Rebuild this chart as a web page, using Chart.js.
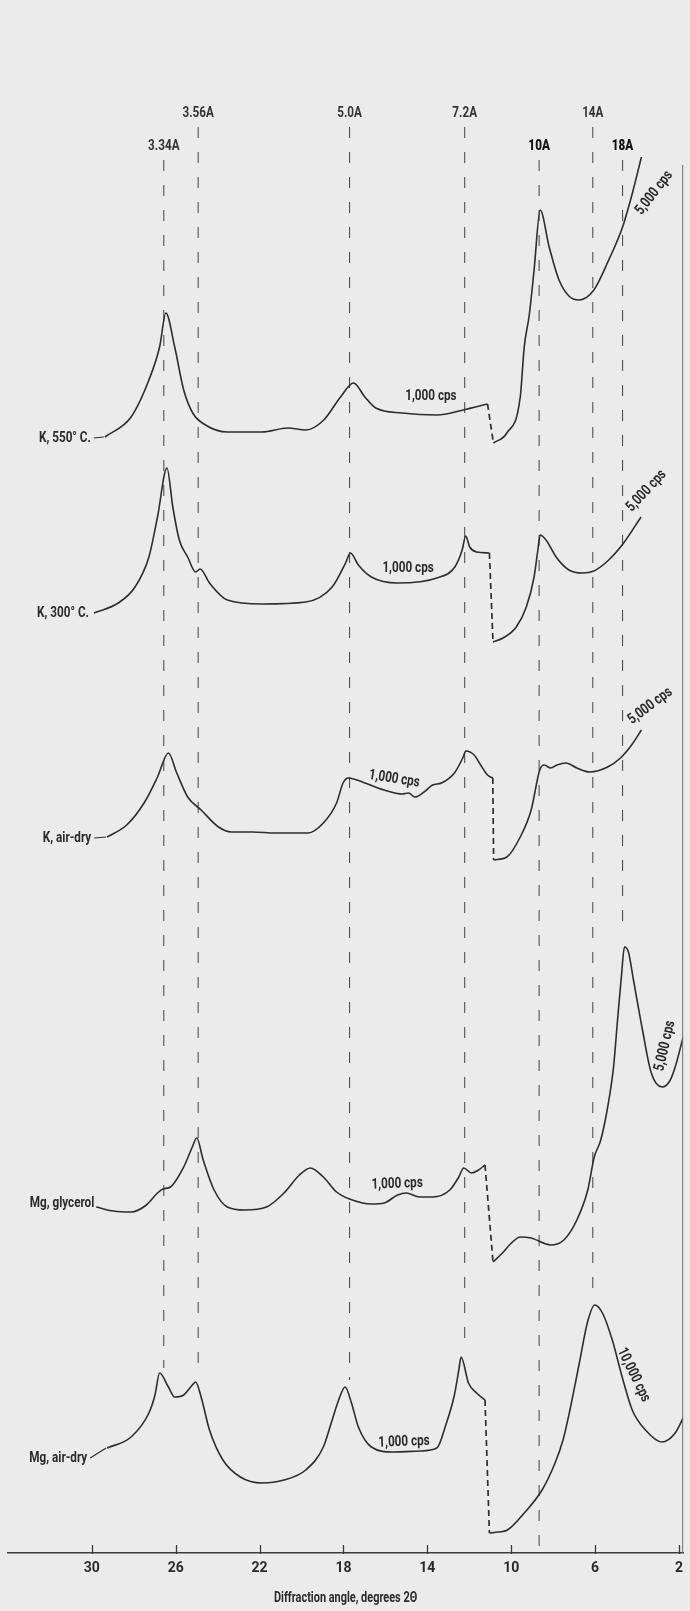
<!DOCTYPE html>
<html>
<head>
<meta charset="utf-8">
<title>X-ray diffraction patterns</title>
<script src="https://cdn.jsdelivr.net/npm/chart.js@4.4.1/dist/chart.umd.min.js"></script>
<style>
  html, body { margin: 0; padding: 0; background: #ebebeb; }
  #wrap { width: 690px; height: 1611px; }
  canvas { display: block; }
</style>
</head>
<body>
<div id="wrap"><canvas id="xrd" width="690" height="1611"></canvas></div>
<script>
// ---- axis -------------------------------------------------------------
const angleTicks = [30, 26, 22, 18, 14, 10, 6, 2];          // degrees 2θ
const axisTitle = 'Diffraction angle, degrees 2\u0398';

// ---- samples ----------------------------------------------------------
const sampleNames   = ['K, 550\u00b0 C.', 'K, 300\u00b0 C.', 'K, air-dry', 'Mg, glycerol', 'Mg, air-dry'];
const sampleOffsets = [110, 94, 71, 34, 10];                 // vertical stacking of the patterns
const highScaleText = ['1,000 cps', '1,000 cps', '1,000 cps', '1,000 cps', '1,000 cps'];
const lowScaleText  = ['5,000 cps', '5,000 cps', '5,000 cps', '5,000 cps', '10,000 cps'];

// K, 550° C.
const k550HiAngle  = [29.38, 28.13, 27.28, 26.77, 26.47, 26.05, 25.62, 25.19, 24.58, 23.54, 21.88, 20.65, 19.80, 18.94, 18.14, 17.52, 16.98, 16.46, 15.20, 13.55, 12.29, 11.13];
const k550HiCounts = [1.6, 3.6, 7.3, 10.6, 14.0, 10.6, 6.3, 4.0, 2.8, 2.1, 2.1, 2.5, 2.3, 3.3, 5.6, 7.0, 5.6, 4.5, 4.0, 3.8, 4.3, 4.9];
const k550LoAngle  = [10.85, 10.21, 9.57, 9.38, 9.14, 8.91, 8.62, 8.19, 7.72, 7.25, 6.77, 6.06, 5.35, 4.69, 4.22, 3.79];
const k550LoCounts = [1.0, 2.0, 5.6, 10.6, 13.8, 18.3, 24.3, 20.6, 17.3, 15.7, 15.3, 16.3, 19.3, 22.6, 26.0, 29.6];

// K, 300° C.
const k300HiAngle  = [29.90, 28.74, 27.94, 27.28, 26.87, 26.42, 26.14, 25.83, 25.43, 25.05, 24.84, 24.39, 23.54, 21.88, 19.80, 18.54, 17.90, 17.67, 17.29, 16.67, 15.42, 13.55, 12.69, 12.34, 12.17, 11.98, 11.65, 11.04];
const k300HiCounts = [0.0, 1.0, 2.6, 5.6, 9.6, 14.5, 10.6, 7.3, 5.6, 4.1, 4.4, 3.0, 1.3, 0.9, 1.1, 2.6, 5.0, 6.0, 4.8, 3.6, 3.0, 3.5, 4.6, 6.3, 7.7, 6.6, 6.1, 6.0];
const k300LoAngle  = [10.87, 10.39, 9.76, 9.28, 8.91, 8.73, 8.62, 8.34, 7.86, 7.25, 6.60, 6.06, 5.35, 4.64, 3.81];
const k300LoCounts = [-2.9, -2.5, -1.4, 0.6, 3.6, 6.3, 7.8, 7.3, 5.6, 4.3, 4.0, 4.2, 5.3, 7.0, 9.6];

// K, air-dry
const kAirHiAngle  = [29.27, 28.34, 27.51, 26.87, 26.35, 25.95, 25.43, 24.79, 23.96, 23.35, 22.31, 21.26, 19.70, 18.96, 18.33, 18.02, 17.76, 17.10, 16.06, 15.20, 14.90, 14.59, 14.16, 13.75, 13.33, 12.71, 12.29, 12.17, 11.77, 11.46, 11.13, 10.88];
const kAirHiCounts = [0.6, 1.8, 4.0, 6.6, 9.0, 7.0, 4.6, 3.3, 1.6, 1.1, 1.1, 1.0, 1.0, 2.0, 4.0, 6.0, 6.5, 6.1, 5.3, 4.9, 5.0, 4.6, 5.1, 5.8, 6.0, 7.0, 8.6, 9.2, 8.8, 7.8, 6.8, 6.5];
const kAirLoAngle  = [10.84, 10.21, 9.57, 9.05, 8.64, 8.43, 8.12, 7.82, 7.39, 6.87, 6.25, 5.40, 4.79, 4.26, 3.79];
const kAirLoCounts = [-1.7, -1.4, 0.6, 3.3, 7.3, 7.8, 7.5, 7.8, 8.0, 7.5, 7.1, 7.6, 8.5, 9.8, 11.3];

// Mg, glycerol
const mgGlyHiAngle  = [29.79, 28.98, 28.13, 27.40, 26.87, 26.61, 26.25, 25.62, 25.21, 25.00, 24.69, 24.17, 23.54, 22.71, 21.67, 20.84, 20.10, 19.58, 18.96, 18.33, 17.71, 16.67, 16.06, 15.42, 15.01, 14.37, 13.75, 12.93, 12.50, 12.27, 11.89, 11.56, 11.25];
const mgGlyHiCounts = [0.6, 0.2, 0.1, 0.8, 2.0, 2.4, 2.6, 4.6, 6.6, 7.5, 5.3, 2.3, 0.6, 0.3, 0.6, 2.0, 3.8, 4.5, 3.6, 2.1, 1.4, 0.9, 1.0, 1.8, 2.0, 1.6, 1.6, 2.3, 3.6, 4.5, 4.0, 4.3, 4.8];
const mgGlyLoAngle  = [10.87, 10.42, 9.99, 9.57, 9.05, 8.12, 7.49, 6.87, 6.35, 6.04, 5.73, 5.40, 5.12, 4.93, 4.74, 4.60, 4.41, 4.17, 3.74, 3.32, 2.80, 2.44, 2.18, 1.80];
const mgGlyLoCounts = [-4.9, -4.0, -3.0, -2.4, -2.5, -3.2, -2.7, -0.7, 2.3, 5.6, 7.3, 10.6, 14.6, 19.3, 23.8, 26.6, 26.1, 23.3, 18.3, 14.0, 12.6, 13.2, 14.6, 17.6];

// Mg, air-dry
const mgAirHiAngle  = [29.27, 28.13, 27.28, 26.99, 26.77, 26.35, 26.05, 25.62, 25.21, 25.05, 24.79, 24.39, 23.75, 22.92, 21.88, 20.84, 19.80, 18.96, 18.54, 18.23, 17.92, 17.62, 17.29, 16.67, 15.63, 14.37, 13.55, 13.12, 12.71, 12.50, 12.39, 12.04, 11.65, 11.25];
const mgAirHiCounts = [0.5, 1.6, 4.0, 5.8, 8.0, 6.6, 5.6, 5.8, 6.8, 7.1, 5.6, 2.3, -0.7, -2.4, -3.0, -2.7, -1.7, 0.6, 3.3, 5.3, 6.6, 5.0, 2.6, 0.6, 0.1, 0.2, 0.5, 2.8, 5.8, 8.3, 9.6, 7.0, 6.0, 5.3];
const mgAirLoAngle  = [11.04, 10.61, 10.18, 9.38, 8.53, 7.91, 7.53, 7.20, 6.77, 6.36, 6.02, 5.65, 5.18, 4.71, 4.23, 3.60, 2.81, 2.18, 1.80];
const mgAirLoCounts = [-8.0, -7.9, -7.7, -6.0, -3.7, -1.0, 1.3, 4.3, 8.8, 13.1, 14.8, 14.0, 11.3, 7.6, 4.3, 2.3, 1.1, 2.0, 3.5];

// ---- basal / d-spacing reference lines ----------------------------------
const spacingLabels = ['3.34A', '3.56A', '5.0A', '7.2A', '10A', '14A', '18A'];
const spacingAngles = [26.57, 24.93, 17.71, 12.22, 8.67, 6.11, 4.69];
const spacingTop    = [139.3, 142.6, 142.6, 142.6, 139.3, 142.6, 139.3];
const spacingBottom = [18.5, 17.7, 17.3, 20.3, 0.4, 25.8, 62.1];

// ---- presentation ------------------------------------------------------
const FONT = "Roboto, 'Noto Sans', sans-serif";
const SQUEEZE = 0.78;         // narrow lettering, as in a condensed face
const INK = '#2a2a2a';
const TRACE = '#2d2d2d';
const GUIDE = '#505050';

// where each scale note sits (angle, level, rotation in degrees)
const highNotePlace = [
  { a: 13.83, v: 115.7, rot: 0 },
  { a: 14.92, v: 98.5,  rot: 0 },
  { a: 15.58, v: 77.4,  rot: 9 },
  { a: 15.44, v: 36.9,  rot: -2 },
  { a: 15.11, v: 11.1,  rot: -2 }
];
const lowNotePlace = [
  { a: 3.18, v: 136.0, rot: -52 },
  { a: 3.55, v: 106.2, rot: -47 },
  { a: 3.37, v: 84.7,  rot: -37 },
  { a: 2.66, v: 50.7,  rot: -77 },
  { a: 4.17, v: 17.8,  rot: 64 }
];
// sample name placement relative to the first point of each pattern (px)
const nameLayout = [
  { gap: 14, dy: 1,  dash: true },
  { gap: 5,  dy: 0,  dash: false },
  { gap: 16, dy: 1,  dash: true },
  { gap: 2,  dy: -4, dash: false },
  { gap: 20, dy: 10, dash: true }
];

const patterns = [
  { hiA: k550HiAngle,  hiC: k550HiCounts,  loA: k550LoAngle,  loC: k550LoCounts },
  { hiA: k300HiAngle,  hiC: k300HiCounts,  loA: k300LoAngle,  loC: k300LoCounts },
  { hiA: kAirHiAngle,  hiC: kAirHiCounts,  loA: kAirLoAngle,  loC: kAirLoCounts },
  { hiA: mgGlyHiAngle, hiC: mgGlyHiCounts, loA: mgGlyLoAngle, loC: mgGlyLoCounts },
  { hiA: mgAirHiAngle, hiC: mgAirHiCounts, loA: mgAirLoAngle, loC: mgAirLoCounts }
];

function toPoints(angles, counts, offset) {
  return angles.map((a, i) => ({ x: a, y: offset + counts[i] }));
}

const datasets = [];
patterns.forEach((p, k) => {
  const off = sampleOffsets[k];
  const hi = toPoints(p.hiA, p.hiC, off);
  const lo = toPoints(p.loA, p.loC, off);
  p.hiPts = hi; p.loPts = lo;
  const solid = {
    borderColor: TRACE, borderWidth: 1.6, pointRadius: 0,
    cubicInterpolationMode: 'monotone', fill: false, order: 0
  };
  datasets.push(Object.assign({ label: sampleNames[k] + ' ' + highScaleText[k], data: hi }, solid));
  datasets.push(Object.assign({ label: sampleNames[k] + ' ' + lowScaleText[k], data: lo }, solid));
  // scale change: dashed drop between the two runs
  datasets.push({
    label: sampleNames[k] + ' scale change',
    data: [hi[hi.length - 1], lo[0]],
    borderColor: TRACE, borderWidth: 1.7, borderDash: [6, 4],
    pointRadius: 0, tension: 0, fill: false, order: 1
  });
});
spacingAngles.forEach((a, i) => {
  datasets.push({
    label: spacingLabels[i],
    data: [{ x: a, y: spacingTop[i] }, { x: a, y: spacingBottom[i] }],
    borderColor: GUIDE, borderWidth: 1.1, borderDash: [11, 14],
    pointRadius: 0, tension: 0, fill: false, order: 2
  });
});

// narrow text helper: anchored at (x, y), optional rotation in degrees
function narrowText(c, text, x, y, opts) {
  const o = Object.assign({ size: 15, weight: '700', align: 'center', rot: 0, squeeze: SQUEEZE, color: INK }, opts);
  c.save();
  c.translate(x, y);
  if (o.rot) c.rotate(o.rot * Math.PI / 180);
  c.scale(o.squeeze, 1);
  c.font = o.weight + ' ' + o.size + 'px ' + FONT;
  c.fillStyle = o.color;
  c.textAlign = o.align;
  c.textBaseline = 'middle';
  c.fillText(text, 0, 0);
  c.restore();
}

const decorations = {
  id: 'decorations',
  beforeDraw(chart) {
    const c = chart.ctx;
    c.save();
    c.fillStyle = '#ebebeb';
    c.fillRect(0, 0, chart.width, chart.height);
    c.restore();
  },
  afterDraw(chart) {
    const c = chart.ctx;
    const xs = chart.scales.x, ys = chart.scales.y;
    const area = chart.chartArea;
    c.save();

    // inward tick marks on the angle axis
    c.strokeStyle = '#3a3a3a';
    c.lineWidth = 1.3;
    angleTicks.forEach(v => {
      const px = Math.round(xs.getPixelForValue(v)) + 0.5;
      c.beginPath();
      c.moveTo(px, area.bottom - 8);
      c.lineTo(px, area.bottom + 1);
      c.stroke();
    });

    // axis caption
    narrowText(c, axisTitle, (area.left + area.right) / 2, area.bottom + 45, { size: 14 });

    // right frame edge
    c.strokeStyle = '#707070';
    c.lineWidth = 1;
    c.beginPath();
    c.moveTo(area.right - 0.5, ys.getPixelForValue(138.8));
    c.lineTo(area.right - 0.5, area.bottom);
    c.stroke();

    // d-spacing labels above the reference lines
    spacingLabels.forEach((t, i) => {
      const strong = (t === '10A' || t === '18A');
      narrowText(c, t, xs.getPixelForValue(spacingAngles[i]), ys.getPixelForValue(spacingTop[i]) - 14, {
        size: 15, weight: strong ? '900' : '700', color: strong ? '#111' : '#333'
      });
    });

    // sample names at the start of each pattern
    patterns.forEach((p, k) => {
      const first = p.hiPts[0];
      const px = xs.getPixelForValue(first.x);
      const py = ys.getPixelForValue(first.y);
      const L = nameLayout[k];
      const tx = px - L.gap;
      const ty = py + L.dy;
      narrowText(c, sampleNames[k], tx, ty, { size: 15, align: 'right' });
      if (L.dash) {
        c.strokeStyle = TRACE;
        c.lineWidth = 1.2;
        c.beginPath();
        c.moveTo(tx + 3, ty);
        c.lineTo(px - 1, py);
        c.stroke();
      }
    });

    // count-rate notes
    patterns.forEach((p, k) => {
      const h = highNotePlace[k], l = lowNotePlace[k];
      narrowText(c, highScaleText[k], xs.getPixelForValue(h.a), ys.getPixelForValue(h.v), { rot: h.rot });
      narrowText(c, lowScaleText[k], xs.getPixelForValue(l.a), ys.getPixelForValue(l.v), { rot: l.rot });
    });

    c.restore();
  }
};

new Chart(document.getElementById('xrd'), {
  type: 'line',
  data: { datasets },
  options: {
    responsive: false,
    animation: false,
    devicePixelRatio: 1,
    layout: { padding: { left: 8, right: 2, top: 0, bottom: 0 } },
    plugins: { legend: { display: false }, tooltip: { enabled: false } },
    elements: { point: { radius: 0 } },
    scales: {
      x: {
        type: 'linear',
        reverse: true,
        min: 1.8,
        max: 34.0,
        afterBuildTicks: (scale) => { scale.ticks = angleTicks.map(v => ({ value: v })); },
        afterFit: (scale) => { scale.height = 58; },
        grid: { display: false, drawTicks: false },
        border: { display: true, color: '#3a3a3a', width: 1.6 },
        ticks: {
          autoSkip: false, maxRotation: 0, padding: 7,
          color: INK,
          font: { family: FONT, size: 14, weight: '700' },
          callback: (v) => String(v)
        },
        title: { display: false }
      },
      y: {
        type: 'linear',
        display: false,
        min: 0,
        max: 155.3
      }
    }
  },
  plugins: [decorations]
});
</script>
</body>
</html>
